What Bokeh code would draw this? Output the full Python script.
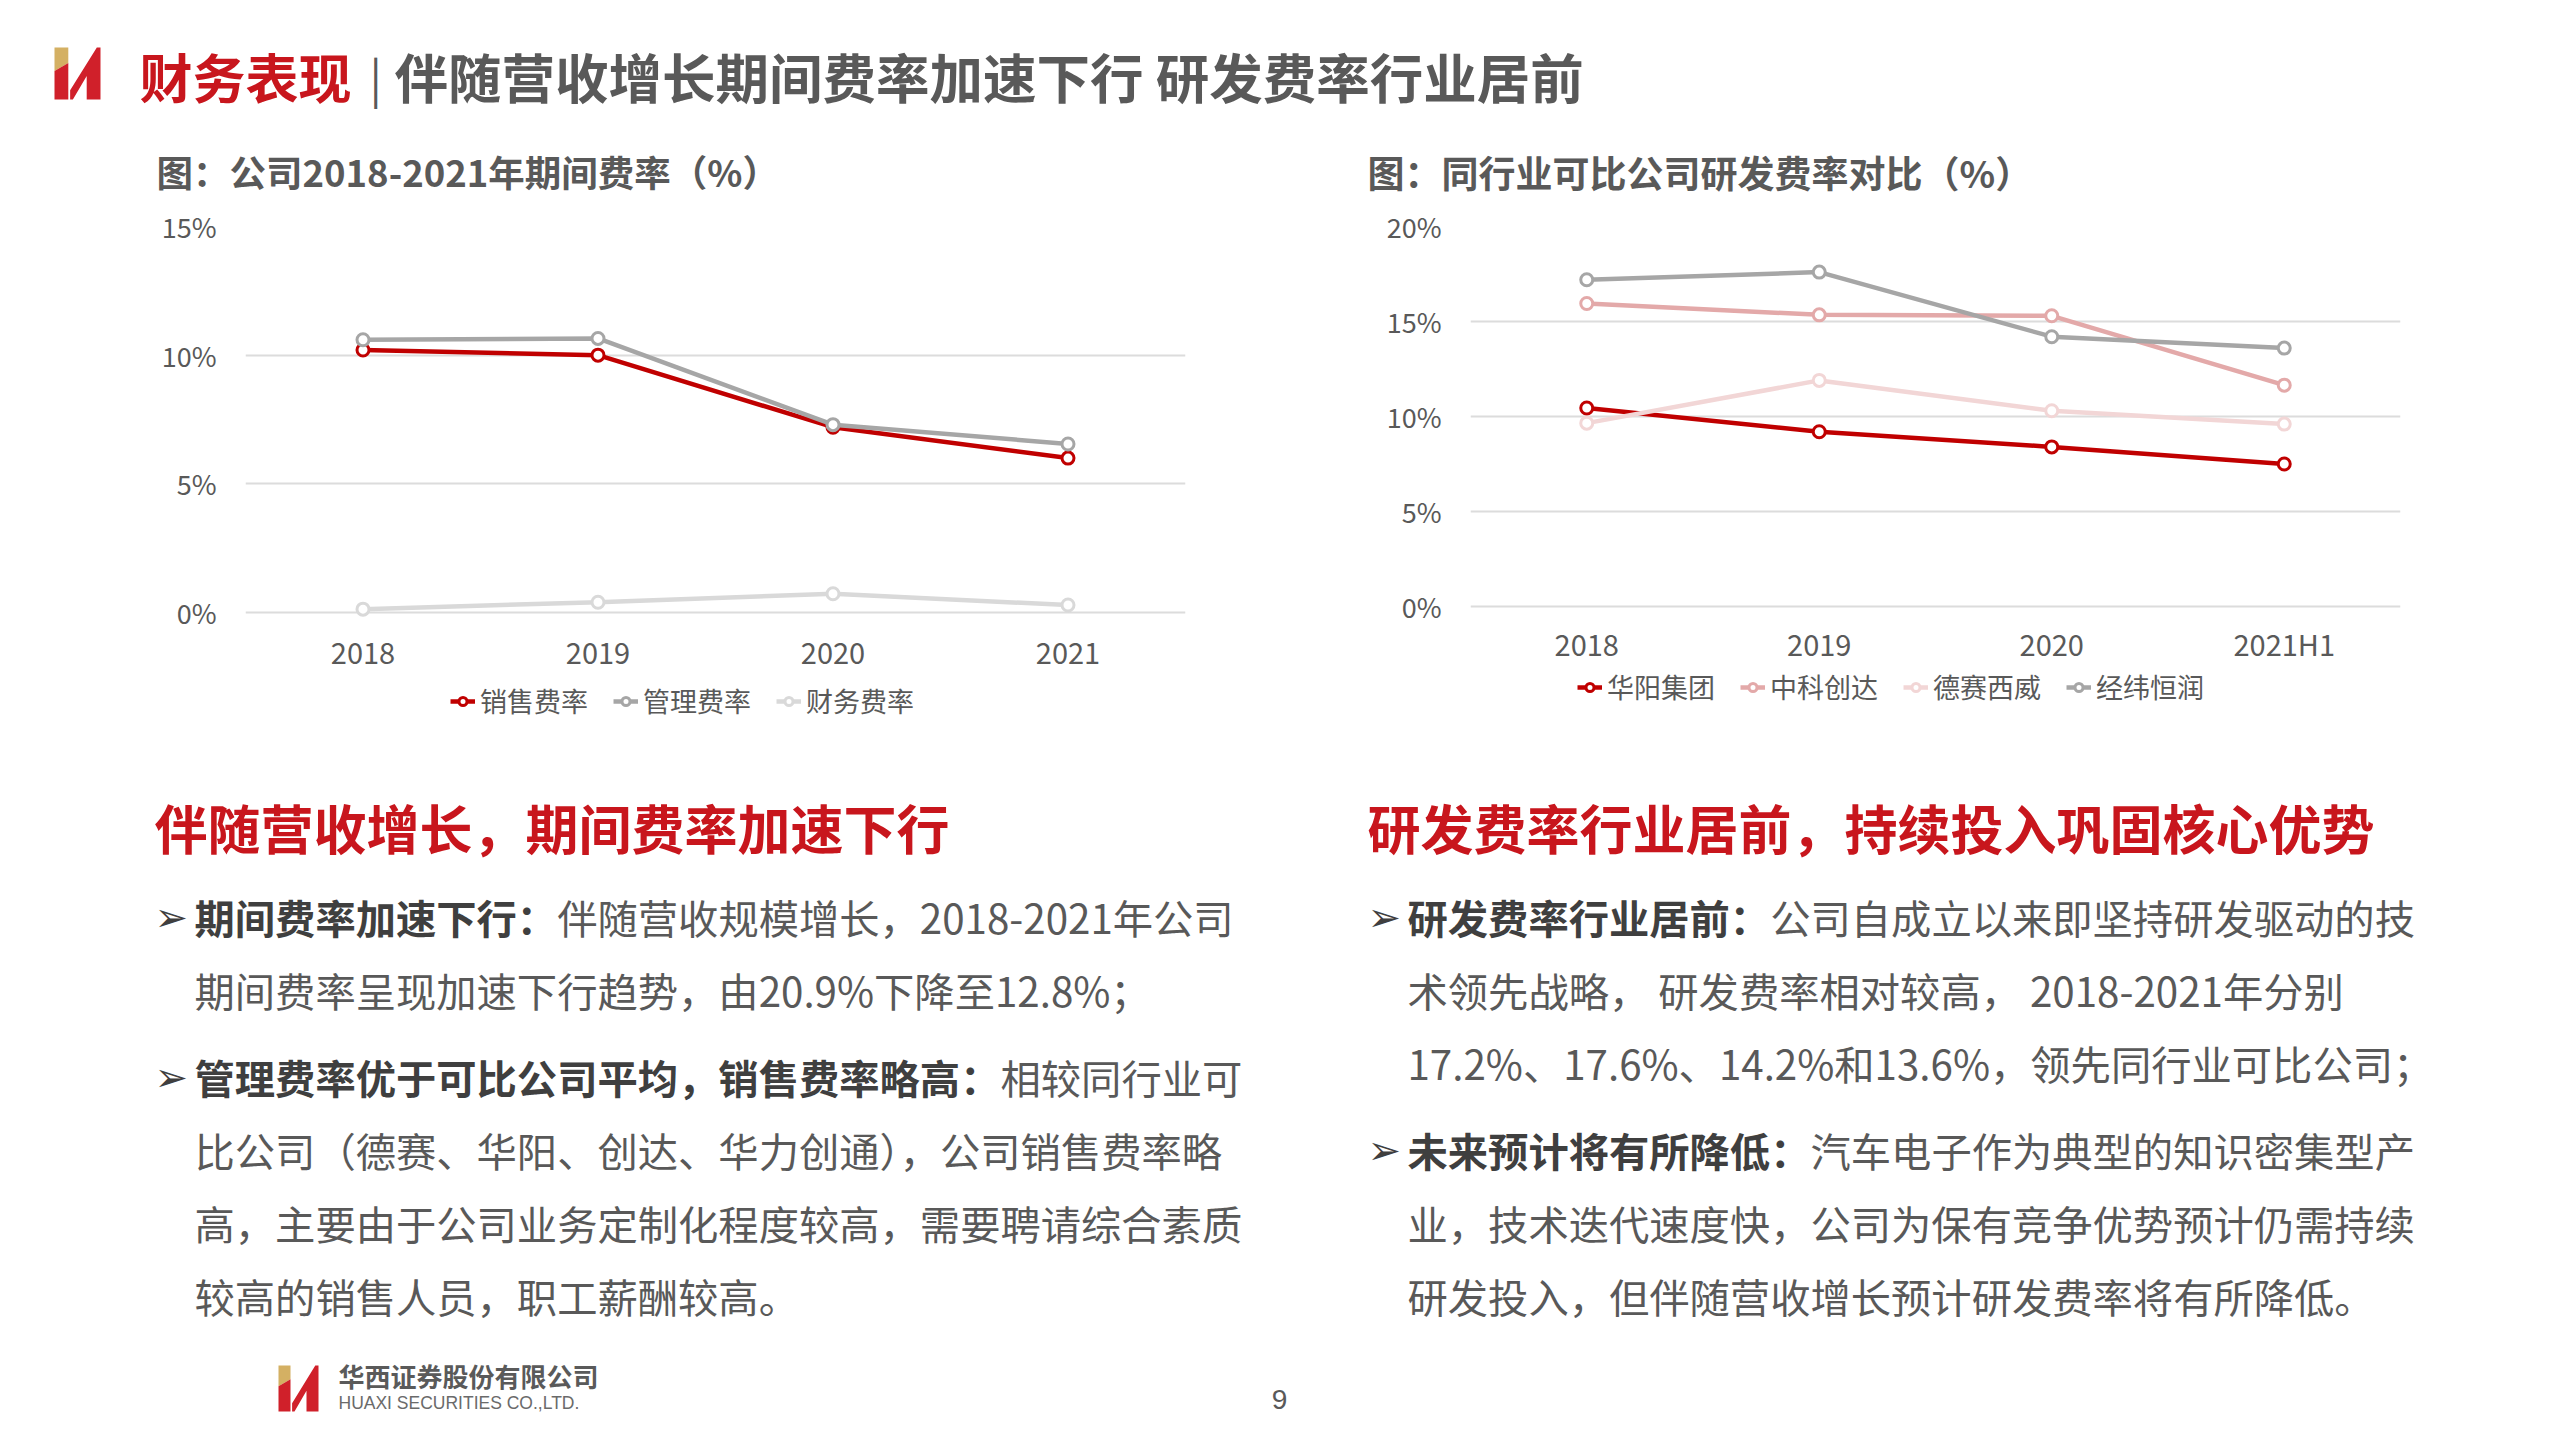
from bokeh.plotting import figure
from bokeh.models import (FactorRange, Range1d, FixedTicker, PrintfTickFormatter,
                          Legend, LegendItem)
from bokeh.layouts import column, row
from bokeh.embed import file_html
from bokeh.resources import INLINE
from bokeh.core.properties import value

# ---------------- data ----------------
years_left = ["2018", "2019", "2020", "2021"]
sales_rate = [10.2, 10.0, 7.2, 6.0]        # 销售费率
admin_rate = [10.6, 10.65, 7.3, 6.55]      # 管理费率
fin_rate = [0.13, 0.40, 0.73, 0.29]        # 财务费率
left_names = ["销售费率", "管理费率", "财务费率"]
left_ticks = [0, 5, 10, 15]

years_right = ["2018", "2019", "2020", "2021H1"]
huayang = [10.45, 9.2, 8.4, 7.5]           # 华阳集团
zhongke = [15.95, 15.35, 15.3, 11.65]      # 中科创达
desay = [9.65, 11.9, 10.3, 9.6]            # 德赛西威
jingwei = [17.2, 17.6, 14.2, 13.6]         # 经纬恒润
right_names = ["华阳集团", "中科创达", "德赛西威", "经纬恒润"]
right_ticks = [0, 5, 10, 15, 20]

FONT = "Noto Sans CJK SC"
RED = "#C8161D"
GRAY_T = "#595959"
DARK_T = "#3F3F3F"


def bare(width, height, y0, y1):
    p = figure(width=width, height=height, x_range=Range1d(8, 8 + width),
               y_range=Range1d(y1, y0), x_axis_type=None, y_axis_type=None,
               min_border=0, output_backend="svg", toolbar_location=None,
               outline_line_color=None, background_fill_color="white",
               border_fill_color="white")
    p.xgrid.visible = False
    p.ygrid.visible = False
    return p


def txt(p, x, y, s, size, color, bold=False, align="left", font=FONT):
    p.text(x=[x], y=[y], text=[s], text_font=value(font), text_font_size=size,
           text_color=color, text_font_style="bold" if bold else "normal",
           text_align=align, text_baseline="middle")


def logo(p, x0, y0, w, h):
    def P(pts, color):
        p.patch([x0 + a * w for a, b in pts], [y0 + b * h for a, b in pts],
                fill_color=color, line_color=None)
    P([(0, 0), (0.3, 0), (0.3, 0.3), (0, 0.45)], "#D4B063")
    P([(0, 0.45), (0.3, 0.3), (0.3, 1), (0, 1)], "#D0202A")
    P([(0.34, 0.82), (0.92, 0), (1, 0), (1, 1), (0.7, 1), (0.7, 0.55), (0.4, 1), (0.34, 1)], "#D0202A")


def chart(factors, series, colors, names, ticks, fw, plot_h, mbl, mbr,
          xstand, legend_loc):
    # frame reaches down to the legend; the value axis spans plot_h pixels above it
    mbt, mbb, fig_h = 29, 5, 535
    fh = fig_h - mbt - mbb
    top = ticks[-1]
    ymin = top - fh * top / plot_h
    p = figure(x_range=FactorRange(factors=factors), y_range=Range1d(ymin, top),
               frame_width=fw, frame_height=fh, min_border_left=mbl,
               min_border_right=mbr, min_border_top=mbt, min_border_bottom=mbb,
               output_backend="svg", toolbar_location=None, outline_line_color=None,
               background_fill_color="white", border_fill_color="white")
    p.xgrid.grid_line_color = None
    p.ygrid.grid_line_color = "#DCDCDC"
    p.ygrid.grid_line_width = 2
    p.yaxis.ticker = FixedTicker(ticks=ticks)
    p.yaxis.formatter = PrintfTickFormatter(format="%d%%")
    for ax in (p.xaxis, p.yaxis):
        ax.axis_line_color = None
        ax.major_tick_line_color = None
        ax.minor_tick_line_color = None
        ax.major_tick_out = 0
        ax.major_label_text_font = FONT
        ax.major_label_text_color = GRAY_T
    p.xaxis.fixed_location = 0
    p.yaxis.major_label_text_font_size = "27px"
    p.xaxis.major_label_text_font_size = "29px"
    p.yaxis.major_label_standoff = 29
    p.xaxis.major_label_standoff = xstand
    items = []
    for vals, c, n in zip(series, colors, names):
        lr = p.line(factors, vals, line_color=c, line_width=4.5)
        sr = p.scatter(factors, vals, size=12, fill_color="white", line_color=c, line_width=3)
        items.append(LegendItem(label=n, renderers=[lr, sr]))
    lg = Legend(items=items, orientation="horizontal", location=legend_loc,
                label_text_font=FONT, label_text_font_size="27px",
                label_text_color=GRAY_T, glyph_width=25, glyph_height=20,
                label_standoff=5, spacing=25, padding=0, margin=0,
                border_line_color=None, background_fill_alpha=0)
    p.add_layout(lg, "center")
    return p


# ---------------- header ----------------
head = bare(2544, 197, 8, 205)
logo(head, 62, 55, 46, 52)
txt(head, 147, 83, "财务表现", "53px", RED, bold=True)
txt(head, 377, 83, "|", "46px", GRAY_T)
txt(head, 402, 83, "伴随营收增长期间费率加速下行 研发费率行业居前", "53.5px", GRAY_T, bold=True)
txt(head, 164, 179, "图：公司2018-2021年期间费率（%）", "36.5px", GRAY_T, bold=True)
txt(head, 1375, 179, "图：同行业可比公司研发费率对比（%）", "37px", GRAY_T, bold=True)

# ---------------- charts ----------------
left = chart(years_left, [sales_rate, admin_rate, fin_rate],
             ["#C00000", "#A6A6A6", "#D9D9D9"], left_names, left_ticks,
             940, 386, 245, 87, 30, (205, 7))
right = chart(years_right, [huayang, zhongke, desay, jingwei],
              ["#C00000", "#E3A9A9", "#F2D6D6", "#A6A6A6"], right_names, right_ticks,
              930, 380, 198, 144, 15, (107, 21))

# ---------------- body ----------------
body = bare(2544, 683, 749, 1432)
txt(body, 162, 843, "伴随营收增长，期间费率加速下行", "53px", RED, bold=True)
txt(body, 1375, 843, "研发费率行业居前，持续投入巩固核心优势", "53px", RED, bold=True)

FS = 40.3
left_lines = [
    (933, True, [("期间费率加速下行：", True), ("伴随营收规模增长，2018-2021年公司", False)]),
    (1006, False, [("期间费率呈现加速下行趋势，由20.9%下降至12.8%；", False)]),
    (1093, True, [("管理费率优于可比公司平均，销售费率略高：", True), ("相较同行业可", False)]),
    (1166, False, [("比公司（德赛、华阳、创达、华力创通），公司销售费率略", False)]),
    (1239, False, [("高，主要由于公司业务定制化程度较高，需要聘请综合素质", False)]),
    (1312, False, [("较高的销售人员，职工薪酬较高。", False)]),
]
right_lines = [
    (933, True, [("研发费率行业居前：", True), ("公司自成立以来即坚持研发驱动的技", False)]),
    (1006, False, [("术领先战略， 研发费率相对较高， 2018-2021年分别", False)]),
    (1079, False, [("17.2%、17.6%、14.2%和13.6%，领先同行业可比公司；", False)]),
    (1166, True, [("未来预计将有所降低：", True), ("汽车电子作为典型的知识密集型产", False)]),
    (1239, False, [("业，技术迭代速度快，公司为保有竞争优势预计仍需持续", False)]),
    (1312, False, [("研发投入，但伴随营收增长预计研发费率将有所降低。", False)]),
]
for lines, bx, tx in ((left_lines, 162, 202), (right_lines, 1375, 1415)):
    for y, bullet, runs in lines:
        if bullet:
            txt(body, bx, y, "➢", "40px", DARK_T, font="DejaVu Sans")
        x = tx
        for s, b in runs:
            txt(body, x, y, s, f"{FS}px", DARK_T if b else GRAY_T, bold=b)
            x += len(s) * FS

logo(body, 286, 1382, 40, 46)
txt(body, 346, 1392, "华西证券股份有限公司", "26px", "#5A5A5A", bold=True)
txt(body, 346, 1419, "HUAXI SECURITIES CO.,LTD.", "17.5px", "#6A6A6A", font="Liberation Sans")
txt(body, 1287, 1416, "9", "28px", GRAY_T, align="center", font="Liberation Sans")

page = column(head, row(left, right), body)
open("out.html", "w").write(file_html(page, INLINE))
